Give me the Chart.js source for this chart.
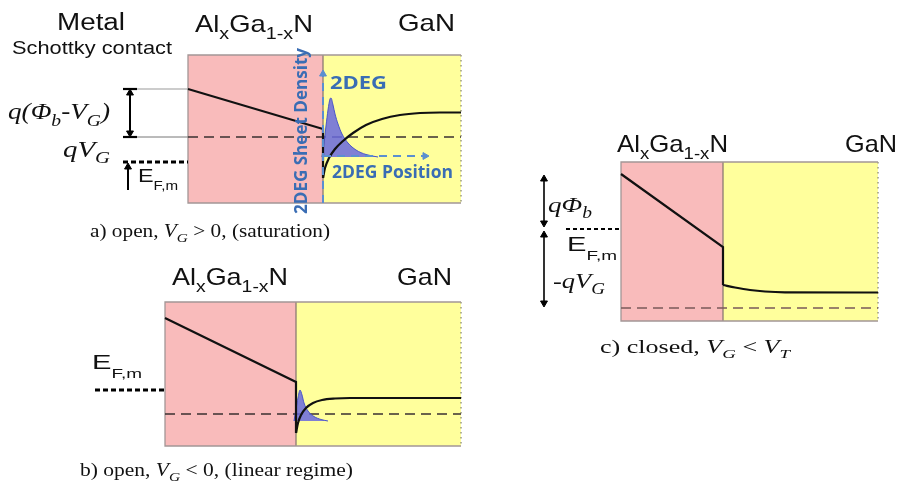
<!DOCTYPE html>
<html>
<head>
<meta charset="utf-8">
<script src="https://cdn.jsdelivr.net/npm/chart.js@4.4.1/dist/chart.umd.min.js"></script>
<style>
html, body { margin: 0; padding: 0; background: #fff; }
#wrap { width: 898px; height: 490px; }
</style>
</head>
<body>
<div id="wrap"><canvas id="bands"></canvas></div>
<script>
// all values in diagram units (1 unit = 1 px of the 898x490 sheet)

// a) open, VG > 0 (saturation)
var aBox = [188, 323, 461, 55, 203];          // left, interface, right, top, bottom
var aBarrier = [[188, 89], [323, 129], [323, 178]];
var aWell = [[323, 178], [325, 168], [329, 158], [335, 149], [343, 141], [353, 133], [366, 125], [382, 119], [400, 115], [420, 113], [440, 112.5], [461, 112.5]];
var aFermi = [[188, 137], [461, 137]];
var aMetal = [[123, 162], [188, 162]];
var aGas = [[322, 157], [324, 143], [326, 126], [328, 110], [330, 99], [331, 98], [333, 105], [335, 114], [338, 124], [342, 134], [348, 143], [356, 150], [366, 154.5], [378, 157]];

// b) open, VG < 0 (linear regime)
var bBox = [165, 296, 461, 302, 446];
var bBarrier = [[165, 318], [296, 382], [296, 433]];
var bWell = [[296, 433], [298, 423], [301, 415], [306, 408], [313, 403], [322, 400], [335, 398.5], [350, 398], [461, 398]];
var bFermi = [[165, 414], [461, 414]];
var bMetal = [[95, 390], [165, 390]];
var bGas = [[294, 421], [296, 409], [298, 398], [300, 390], [302, 395], [304, 403], [308, 411], [314, 416.5], [321, 419.5], [328, 421]];

// c) closed, VG < VT
var cBox = [621, 723, 878, 162, 321];
var cBarrier = [[621, 174], [723, 247], [723, 285]];
var cWell = [[723, 285], [735, 287.5], [750, 290], [765, 291.5], [785, 292.3], [878, 292.5]];
var cFermi = [[621, 308], [878, 308]];
var cMetal = [[566, 229], [621, 229]];

var PINK = '#f9bbbb';
var YELLOW = '#ffff9c';
var EDGE = '#a39696';
var BLUE = '#3a6db4';
var BLUE_AXIS = '#5b8fd0';
var SANS = '"Liberation Sans", Arial, sans-serif';
var SERIF = '"Liberation Serif", "Times New Roman", serif';
var CALI = '"Open Sans", "Liberation Sans", sans-serif';

var datasets = [];

function pts(arr) {
    return arr.map(function (p) { return { x: p[0], y: p[1] }; });
}

function add(data, opts) {
    datasets.push(Object.assign({
        data: pts(data),
        pointRadius: 0,
        borderWidth: 1,
        borderColor: '#000',
        backgroundColor: 'transparent',
        fill: false,
        tension: 0,
        clip: false,
        order: 5
    }, opts));
}

function box(b) {
    add([[b[0], b[3]], [b[1], b[3]]], { fill: { value: b[4] }, backgroundColor: PINK, borderColor: 'rgba(0,0,0,0)', borderWidth: 0, order: 9 });
    add([[b[1], b[3]], [b[2], b[3]]], { fill: { value: b[4] }, backgroundColor: YELLOW, borderColor: 'rgba(0,0,0,0)', borderWidth: 0, order: 9 });
    add([[b[2], b[3]], [b[0], b[3]], [b[0], b[4]], [b[2], b[4]]], { borderColor: EDGE, borderWidth: 1.3, order: 8 });
    add([[b[1], b[3]], [b[1], b[4]]], { borderColor: '#8c7b72', borderWidth: 1.3, order: 8 });
    add([[b[2], b[3]], [b[2], b[4]]], { borderColor: '#9a9a80', borderWidth: 1.5, borderDash: [1.5, 3.5], order: 8 });
}

function arrow(data, heads, rots, color, width, dash) {
    add(data, {
        borderColor: color, borderWidth: width, borderDash: dash || [],
        pointStyle: 'triangle', pointRadius: heads, pointRotation: rots,
        pointBackgroundColor: color, pointBorderColor: color, pointBorderWidth: 1,
        order: 2
    });
}

function band(barrier, well) {
    add(barrier, { borderWidth: 2.2, borderColor: '#111', order: 3 });
    add(well, { borderWidth: 2.2, borderColor: '#111', cubicInterpolationMode: 'monotone', order: 3 });
}

function gas(data) {
    add(data, { fill: { value: data[0][1] }, backgroundColor: 'rgba(105,105,222,0.85)', borderColor: '#4a55c8', borderWidth: 1, cubicInterpolationMode: 'monotone', order: 4 });
}

// boxes
box(aBox); box(bBox); box(cBox);

// Fermi level in the semiconductor
add(aFermi, { borderColor: '#3a3030', borderWidth: 1.3, borderDash: [10, 6], order: 6 });
add(bFermi, { borderColor: '#3a3030', borderWidth: 1.3, borderDash: [10, 6], order: 6 });
add(cFermi, { borderColor: '#7a5a5a', borderWidth: 1.3, borderDash: [10, 6], order: 6 });

// metal Fermi level
add(aMetal, { borderColor: '#000', borderWidth: 3, borderDash: [5, 3], order: 6 });
add(bMetal, { borderColor: '#000', borderWidth: 3, borderDash: [5, 3], order: 6 });
add(cMetal, { borderColor: '#000', borderWidth: 2, borderDash: [4, 3], order: 6 });

// 2DEG
gas(aGas); gas(bGas);

// conduction bands
band(aBarrier, aWell); band(bBarrier, bWell); band(cBarrier, cWell);

// panel a guide lines and arrows
add([[123, 89], [188, 89]], { borderColor: '#999', borderWidth: 1, order: 6 });
add([[123, 137], [188, 137]], { borderColor: '#777', borderWidth: 1, order: 6 });
add([[123, 89], [137, 89]], { borderColor: '#000', borderWidth: 2.2, order: 2 });
add([[123, 137], [137, 137]], { borderColor: '#000', borderWidth: 2.2, order: 2 });
arrow([[130, 93], [130, 133]], [4, 4], [0, 180], '#000', 2);
arrow([[128, 190], [128, 167]], [0, 4], [0, 0], '#000', 2);

// 2DEG axes
arrow([[323, 203], [323, 74]], [0, 4], [0, 0], BLUE_AXIS, 2, [8, 6]);
arrow([[323, 156], [425, 156]], [0, 4], [0, 90], BLUE_AXIS, 2, [8, 6]);

// panel c arrows
arrow([[544, 179], [544, 223]], [4, 4], [0, 180], '#000', 1.6);
arrow([[544, 235], [544, 303]], [4, 4], [0, 180], '#000', 1.6);

var texts = [
    { x: 57, y: 30, size: 23, w: 68, font: SANS, runs: [['Metal']] },
    { x: 12, y: 54, size: 19, w: 160, font: SANS, runs: [['Schottky contact']] },
    { x: 195, y: 32, size: 24, w: 118, font: SANS, runs: [['Al'], ['x', 's'], ['Ga'], ['1-x', 's'], ['N']] },
    { x: 398, y: 31, size: 24, w: 57, font: SANS, runs: [['GaN']] },
    { x: 8, y: 119, size: 24, w: 102, font: SERIF, runs: [['q(Φ', 'i'], ['b', 'is'], ['-V', 'i'], ['G', 'is'], [')', 'i']] },
    { x: 63, y: 157, size: 23, w: 47, font: SERIF, runs: [['qV', 'i'], ['G', 'is']] },
    { x: 138, y: 182, size: 19, w: 40, font: SANS, sub: 0.65, drop: 0.42, runs: [['E'], ['F,m', 's']] },
    { x: 90, y: 237, size: 18, w: 240, font: SERIF, runs: [['a) open, '], ['V', 'i'], ['G', 'is'], [' > 0, (saturation)']] },
    { x: 330, y: 89, size: 18, w: 57, font: CALI, bold: true, color: BLUE, runs: [['2DEG']] },
    { x: 332, y: 178, size: 18, w: 121, font: CALI, bold: true, color: BLUE, runs: [['2DEG Position']] },
    { x: 307, y: 214, size: 18, w: 166, rot: -90, font: CALI, bold: true, color: BLUE, runs: [['2DEG Sheet Density']] },

    { x: 172, y: 285, size: 24, w: 116, font: SANS, runs: [['Al'], ['x', 's'], ['Ga'], ['1-x', 's'], ['N']] },
    { x: 397, y: 285, size: 24, w: 55, font: SANS, runs: [['GaN']] },
    { x: 92, y: 369, size: 21, w: 50, font: SANS, sub: 0.65, drop: 0.42, runs: [['E'], ['F,m', 's']] },
    { x: 80, y: 476, size: 18, w: 273, font: SERIF, runs: [['b) open, '], ['V', 'i'], ['G', 'is'], [' < 0, (linear regime)']] },

    { x: 617, y: 152, size: 24, w: 111, font: SANS, runs: [['Al'], ['x', 's'], ['Ga'], ['1-x', 's'], ['N']] },
    { x: 845, y: 152, size: 24, w: 52, font: SANS, runs: [['GaN']] },
    { x: 548, y: 212, size: 22, w: 44, font: SERIF, runs: [['qΦ', 'i'], ['b', 'is']] },
    { x: 567, y: 251, size: 21, w: 50, font: SANS, sub: 0.65, drop: 0.42, runs: [['E'], ['F,m', 's']] },
    { x: 553, y: 288, size: 22, w: 52, font: SERIF, runs: [['-qV', 'i'], ['G', 'is']] },
    { x: 600, y: 353, size: 18, w: 190, font: SERIF, runs: [['c) closed, '], ['V', 'i'], ['G', 'is'], [' < '], ['V', 'i'], ['T', 'is']] }
];

function fontOf(t, r) {
    var s = r[1] || '';
    var size = s.indexOf('s') >= 0 ? t.size * (t.sub || 0.72) : t.size;
    return (s.indexOf('i') >= 0 ? 'italic ' : '') + (t.bold ? 'bold ' : '') + size.toFixed(1) + 'px ' + t.font;
}

var textPlugin = {
    id: 'bandText',
    afterDatasetsDraw: function (chart) {
        var ctx = chart.ctx, xs = chart.scales.x, ys = chart.scales.y;
        texts.forEach(function (t) {
            var widths = t.runs.map(function (r) {
                ctx.font = fontOf(t, r);
                return ctx.measureText(r[0]).width;
            });
            var total = widths.reduce(function (a, b) { return a + b; }, 0);
            var sx = t.w ? t.w / total : 1;
            ctx.save();
            ctx.translate(xs.getPixelForValue(t.x), ys.getPixelForValue(t.y));
            if (t.rot) ctx.rotate(t.rot * Math.PI / 180);
            ctx.scale(sx, 1);
            ctx.fillStyle = t.color || '#111';
            ctx.textBaseline = 'alphabetic';
            var cx = 0;
            t.runs.forEach(function (r, i) {
                var isSub = (r[1] || '').indexOf('s') >= 0;
                ctx.font = fontOf(t, r);
                ctx.fillText(r[0], cx, isSub ? t.size * (t.drop || 0.28) : 0);
                cx += widths[i];
            });
            ctx.restore();
        });
    }
};

try {
    var ctx = document.getElementById('bands');
    new Chart(ctx, {
        type: 'line',
        data: { datasets: datasets },
        options: {
            responsive: true,
            maintainAspectRatio: false,
            animation: false,
            events: [],
            layout: { padding: 0, autoPadding: false },
            plugins: { legend: { display: false }, tooltip: { enabled: false } },
            scales: {
                x: { type: 'linear', min: 0, max: 898, display: false },
                y: { type: 'linear', min: 0, max: 490, reverse: true, display: false }
            }
        },
        plugins: [textPlugin]
    });
} catch (error) {
    console.log(error);
}
</script>
</body>
</html>
